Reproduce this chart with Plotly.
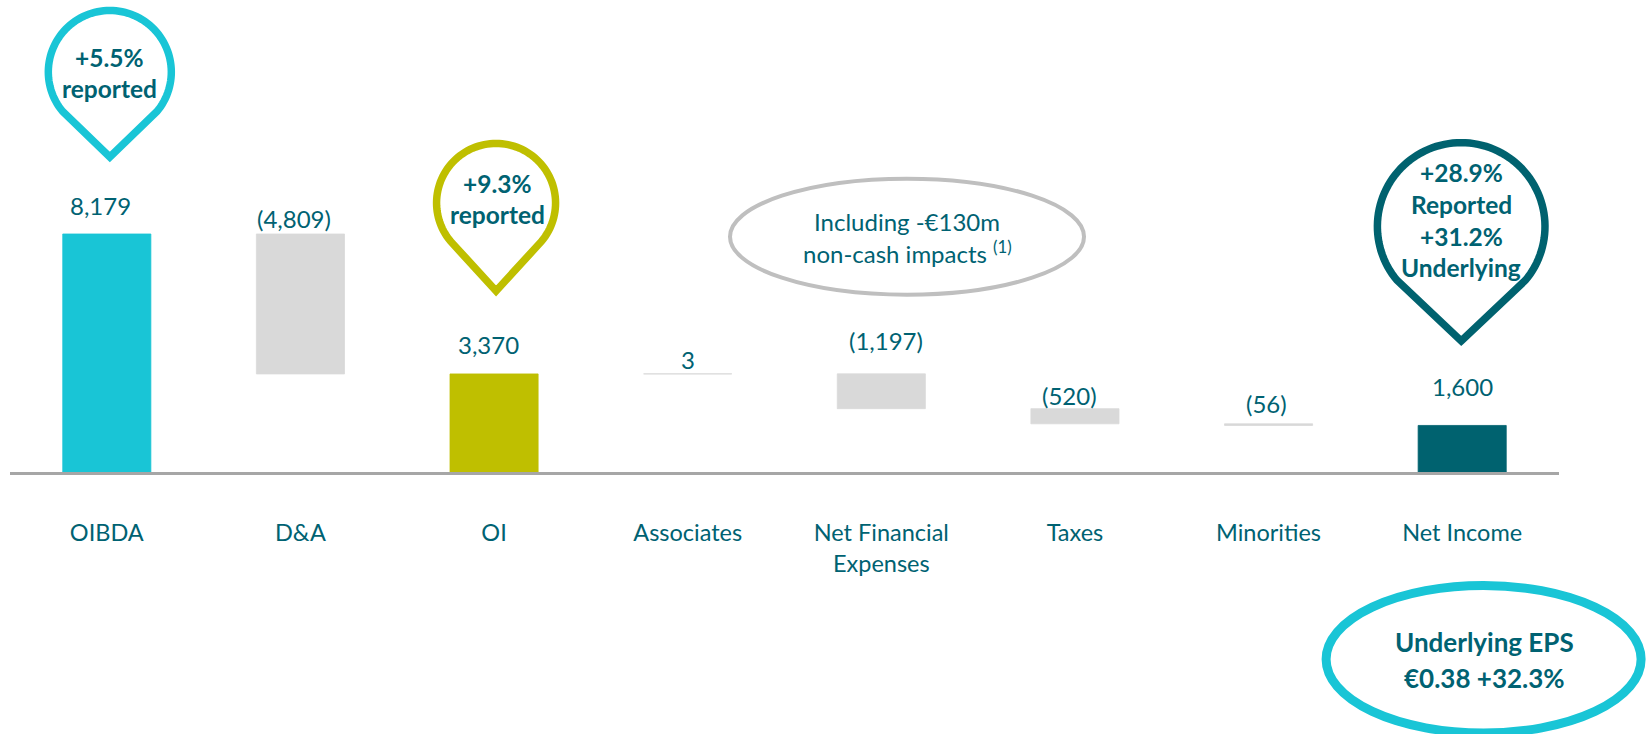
import math
import plotly.graph_objects as go

# ---------------- data ----------------
categories = ["OIBDA", "D&A", "OI", "Associates", "Net Financial<br>Expenses",
              "Taxes", "Minorities", "Net Income"]
values = [8179, -4809, 3370, 3, -1197, -520, -56, 1600]
measures = ["total", "relative", "total", "relative", "relative", "relative",
            "relative", "total"]
value_labels = ["8,179", "(4,809)", "3,370", "3", "(1,197)", "(520)", "(56)", "1,600"]

pin_texts = {0: ["+5.5%", "reported"],
             2: ["+9.3%", "reported"],
             7: ["+28.9%", "Reported", "+31.2%", "Underlying"]}
note_lines = ["Including -€130m", "non-cash impacts <sup>(1)</sup>"]
eps_lines = ["Underlying EPS", "€0.38 +32.3%"]

# ---------------- style ----------------
FONT = "Lato"
TEAL = "#006272"
CYAN = "#19C5D6"
OLIVE = "#BFBF00"
GREY_BAR = "#D9D9D9"
bar_colors = [CYAN, GREY_BAR, OLIVE, GREY_BAR, GREY_BAR, GREY_BAR, GREY_BAR, "#00626F"]

W, H = 1651, 734
PL, PR, PT, PB = 10, 1559, 0, 472          # plot area in pixels
YMAX = 16220
N = len(categories)

def x2px(x): return PL + (x + 0.5) / N * (PR - PL)
def y2py(y): return PB - y / YMAX * (PB - PT)
def px2x(px): return (px - PL) / (PR - PL) * N - 0.5
def py2y(py): return (PB - py) / (PB - PT) * YMAX
def px2paper_x(px): return (px - PL) / (PR - PL)
def py2paper_y(py): return (PB - py) / (PB - PT)

# ---------------- waterfall geometry from data ----------------
bases, heights, tops = [], [], []
running = 0
for v, m in zip(values, measures):
    if m == "total":
        b, h = 0, v
        running = v
    else:
        b = running if v >= 0 else running + v
        h = abs(v)
        running += v
    bases.append(b)
    heights.append(h)
    tops.append(b + h)

fig = go.Figure()
fig.add_trace(go.Bar(
    x=list(range(N)), y=heights, base=bases,
    marker=dict(color=bar_colors, line=dict(color=bar_colors, width=0.8)),
    width=0.455, hoverinfo="skip",
))

annotations = []
shapes = []

# value labels
label_dx = [-6, -6, -6, 0, 5, -5, -2, 0]
label_dy = [28.7, 15, 29, 14.3, 33, 13.5, 20, 38.5]
for i, t in enumerate(value_labels):
    annotations.append(dict(
        x=i, y=tops[i], xref="x", yref="y", text=t, showarrow=False,
        xanchor="center", yanchor="middle", xshift=label_dx[i], yshift=label_dy[i],
        font=dict(family=FONT, size=24, color=TEAL)))

# pins (teardrop callouts)
pin_style = {
    0: dict(dx=3, rise=162, r=61.5, tip=85, color=CYAN, tdx=0, tdy=[-14.7, 17]),
    2: dict(dx=2, rise=171, r=59.5, tip=88, color=OLIVE, tdx=1.5, tdy=[-19, 12]),
    7: dict(dx=-1, rise=199, r=83.8, tip=114.5, color="#00626F", tdx=0,
            tdy=[-54.3, -22, 9.7, 41.3]),
}
JOIN = math.radians(50)
for i, st in pin_style.items():
    cx = x2px(i) + st["dx"]
    cy = y2py(tops[i]) - st["rise"]
    pts = [(cx, cy + st["tip"])]
    nseg = 90
    for k in range(nseg + 1):
        phi = JOIN + (2 * math.pi - 2 * JOIN) * k / nseg
        pts.append((cx + st["r"] * math.sin(phi), cy + st["r"] * math.cos(phi)))
    path = "M " + " L ".join(f"{px2x(px):.5f},{py2y(py):.3f}" for px, py in pts) + " Z"
    shapes.append(dict(type="path", path=path, xref="x", yref="y",
                       line=dict(color=st["color"], width=7.5), layer="above"))
    for line, dy in zip(pin_texts[i], st["tdy"]):
        annotations.append(dict(
            x=px2x(cx + st["tdx"]), y=py2y(cy + dy), xref="x", yref="y",
            text=f"<b>{line}</b>", showarrow=False, xanchor="center", yanchor="middle",
            font=dict(family=FONT, size=24.5, color=TEAL)))

# grey note ellipse near Net Financial Expenses
ncx = x2px(4) + 25.7
ncy = 236.7
shapes.append(dict(type="circle", xref="x", yref="y",
                   x0=px2x(ncx - 177), x1=px2x(ncx + 177),
                   y0=py2y(ncy + 58), y1=py2y(ncy - 58),
                   line=dict(color="#BFBFBF", width=4), layer="above"))
for line, dy in zip(note_lines, [-15.7, 15]):
    annotations.append(dict(
        x=px2x(ncx), y=py2y(ncy + dy), xref="x", yref="y", text=line, showarrow=False,
        xanchor="center", yanchor="middle",
        font=dict(family=FONT, size=24, color=TEAL)))

# EPS ellipse (below the axis, paper coordinates)
ecx, ecy = 1483.6, 659
shapes.append(dict(type="circle", xref="paper", yref="paper",
                   x0=px2paper_x(ecx - 157.5), x1=px2paper_x(ecx + 157.5),
                   y0=py2paper_y(ecy + 74), y1=py2paper_y(ecy - 73.5),
                   line=dict(color=CYAN, width=9), layer="above"))
for line, dy in zip(eps_lines, [-16.7, 19.3]):
    annotations.append(dict(
        x=px2paper_x(ecx + 1), y=py2paper_y(ecy + dy), xref="paper", yref="paper",
        text=f"<b>{line}</b>", showarrow=False, xanchor="center", yanchor="middle",
        font=dict(family=FONT, size=26, color=TEAL)))

fig.update_layout(
    width=W, height=H,
    margin=dict(l=PL, r=W - PR, t=PT, b=H - PB, pad=0),
    paper_bgcolor="white", plot_bgcolor="white",
    showlegend=False, hovermode=False,
    xaxis=dict(range=[-0.5, N - 0.5], tickmode="array", tickvals=list(range(N)),
               ticktext=categories, showgrid=False, zeroline=False,
               showline=True, linecolor="#A6A6A6", linewidth=2.5, ticks="",
               ticklabelstandoff=38,
               tickfont=dict(family=FONT, size=23.5, color=TEAL), fixedrange=True),
    yaxis=dict(range=[0, YMAX], visible=False, fixedrange=True),
    shapes=shapes, annotations=annotations,
)

fig.write_html("out.html", config={"displayModeBar": False},
               post_script="document.body.style.margin='0px';")
